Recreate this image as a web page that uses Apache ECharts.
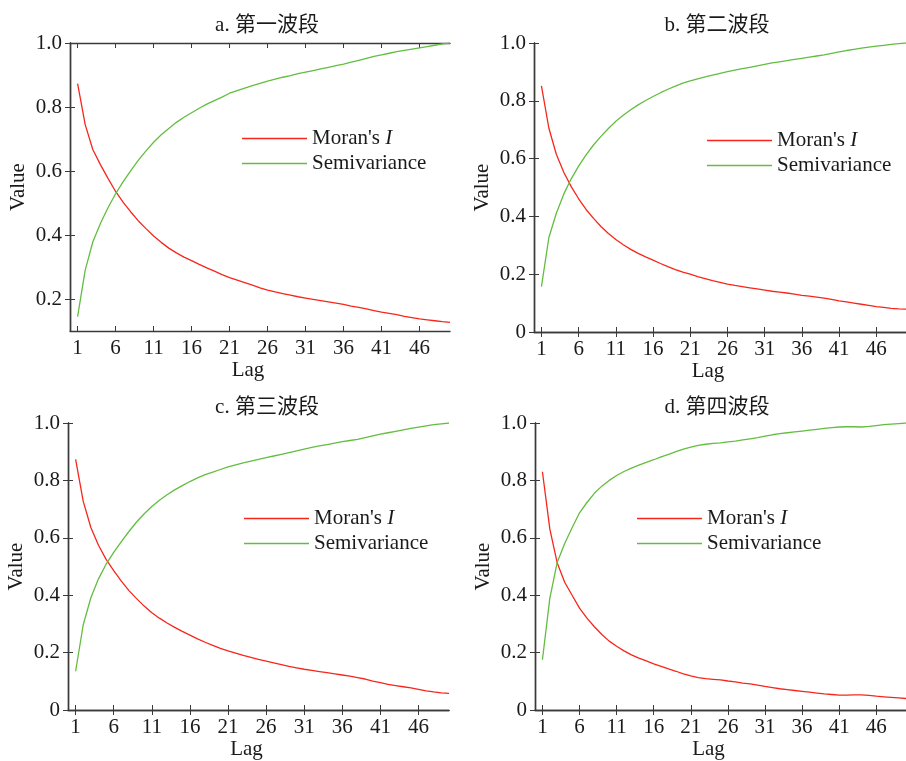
<!DOCTYPE html>
<html>
<head>
<meta charset="utf-8">
<script src="https://cdn.jsdelivr.net/npm/echarts@6/dist/echarts.min.js"></script>
<style>
html,body{margin:0;padding:0;background:#fff;}
#chart{width:906px;height:761px;}
</style>
</head>
<body>
<div id="chart"></div>
<script>
// ---- data ----
const lags = [1,2,3,4,5,6,7,8,9,10,11,12,13,14,15,16,17,18,19,20,21,22,23,24,25,26,27,28,29,30,31,32,33,34,35,36,37,38,39,40,41,42,43,44,45,46,47,48,49,50];
const xTickLabels = [1,6,11,16,21,26,31,36,41,46];
const yTicksA = [0.2,0.4,0.6,0.8,1.0];
const yTicksBCD = [0,0.2,0.4,0.6,0.8,1.0];
const panelTitles = ['a. 第一波段','b. 第二波段','c. 第三波段','d. 第四波段'];
const seriesNames = ["Moran's I", 'Semivariance'];

const moranA = [0.873,0.745,0.667,0.620,0.577,0.536,0.502,0.472,0.444,0.420,0.397,0.377,0.359,0.344,0.331,0.320,0.308,0.297,0.287,0.276,0.267,0.259,0.251,0.243,0.235,0.228,0.222,0.217,0.212,0.207,0.203,0.199,0.195,0.191,0.187,0.183,0.178,0.174,0.169,0.164,0.159,0.155,0.151,0.146,0.142,0.138,0.135,0.132,0.129,0.127];
const semiA = [0.145,0.290,0.378,0.436,0.485,0.529,0.567,0.601,0.634,0.663,0.690,0.713,0.733,0.752,0.768,0.782,0.796,0.809,0.820,0.831,0.843,0.851,0.859,0.867,0.874,0.881,0.887,0.893,0.898,0.904,0.909,0.914,0.919,0.924,0.929,0.934,0.940,0.946,0.952,0.958,0.963,0.968,0.973,0.977,0.981,0.985,0.989,0.993,0.997,1.000];

const moranB = [0.852,0.705,0.615,0.553,0.503,0.461,0.424,0.393,0.365,0.341,0.320,0.302,0.286,0.272,0.260,0.249,0.237,0.226,0.216,0.207,0.200,0.192,0.185,0.178,0.172,0.166,0.161,0.157,0.153,0.149,0.145,0.141,0.138,0.135,0.131,0.127,0.124,0.121,0.117,0.113,0.108,0.104,0.100,0.096,0.092,0.088,0.085,0.082,0.080,0.079];
const semiB = [0.157,0.327,0.411,0.477,0.530,0.574,0.613,0.647,0.677,0.704,0.729,0.750,0.769,0.786,0.801,0.815,0.828,0.840,0.851,0.861,0.869,0.876,0.883,0.889,0.895,0.901,0.906,0.911,0.916,0.921,0.926,0.931,0.935,0.939,0.943,0.947,0.951,0.955,0.959,0.964,0.969,0.974,0.978,0.982,0.986,0.989,0.992,0.995,0.998,1.000];

const moranC = [0.873,0.727,0.636,0.574,0.525,0.486,0.449,0.416,0.388,0.362,0.339,0.320,0.303,0.288,0.274,0.261,0.248,0.236,0.225,0.215,0.206,0.198,0.190,0.183,0.176,0.170,0.164,0.158,0.152,0.147,0.142,0.138,0.134,0.130,0.126,0.122,0.118,0.113,0.108,0.101,0.095,0.089,0.085,0.081,0.077,0.072,0.067,0.063,0.060,0.058];
const semiC = [0.135,0.297,0.391,0.457,0.508,0.549,0.587,0.622,0.655,0.684,0.709,0.731,0.750,0.767,0.782,0.796,0.809,0.820,0.829,0.838,0.847,0.854,0.861,0.867,0.873,0.879,0.885,0.891,0.897,0.903,0.909,0.915,0.920,0.925,0.930,0.935,0.939,0.943,0.949,0.955,0.961,0.966,0.971,0.976,0.981,0.986,0.990,0.994,0.997,1.000];

const moranD = [0.830,0.630,0.512,0.445,0.400,0.355,0.320,0.290,0.263,0.240,0.222,0.206,0.192,0.181,0.171,0.161,0.152,0.143,0.135,0.126,0.119,0.113,0.109,0.107,0.105,0.101,0.098,0.094,0.091,0.087,0.082,0.078,0.074,0.071,0.068,0.065,0.062,0.059,0.056,0.054,0.052,0.052,0.053,0.053,0.051,0.048,0.046,0.044,0.042,0.040];
const semiD = [0.175,0.390,0.515,0.580,0.635,0.687,0.723,0.755,0.780,0.800,0.817,0.831,0.843,0.853,0.863,0.872,0.882,0.891,0.900,0.909,0.916,0.922,0.926,0.929,0.931,0.934,0.937,0.941,0.945,0.949,0.954,0.959,0.963,0.966,0.969,0.972,0.975,0.978,0.981,0.984,0.986,0.987,0.987,0.986,0.988,0.991,0.994,0.996,0.998,1.000];

// ---- layout / style ----
const FONT = "'Liberation Serif','Times New Roman','Noto Sans CJK SC',serif";
const FS = 21;
const AX = '#3a3a3a';
const TXT = '#1a1a1a';
const RED = '#f7261b';
const GREEN = '#63bd40';
const panels = [
  {grid:{left:70,top:43,width:380,height:288}, ymin:0.1, yticks:yTicksA, moran:moranA, semi:semiA, title:{x:262,y:10}, legend:{left:242,top:128}},
  {grid:{left:534,top:43,width:381,height:289}, ymin:0, yticks:yTicksBCD, moran:moranB, semi:semiB, title:{x:712,y:10}, legend:{left:707,top:130}},
  {grid:{left:68,top:423,width:381,height:289}, ymin:0, yticks:yTicksBCD, moran:moranC, semi:semiC, title:{x:262,y:392}, legend:{left:244,top:508}},
  {grid:{left:535,top:423,width:381,height:289}, ymin:0, yticks:yTicksBCD, moran:moranD, semi:semiD, title:{x:712,y:392}, legend:{left:637,top:508}}
];

const option = {backgroundColor:'#fff', animation:false, title:[], grid:[], xAxis:[], yAxis:[], legend:[], series:[]};
const fmtY = v => (v === 0 ? '0' : v.toFixed(1));

panels.forEach((p, i) => {
  option.title.push({text: panelTitles[i], left: p.title.x, top: p.title.y, textAlign: 'center',
    textStyle:{fontFamily:FONT, fontSize:FS, fontWeight:'normal', color:TXT}});
  option.grid.push(p.grid);
  const axLine = {show:true, lineStyle:{color:AX, width:1.4}};
  option.xAxis.push({type:'value', gridIndex:i, position:'bottom', min:0, max:50,
    name:'Lag', nameLocation:'middle', nameGap:29,
    nameTextStyle:{fontFamily:FONT, fontSize:FS, color:TXT, padding:[0,24,0,0]},
    axisLine:axLine, splitLine:{show:false},
    axisTick:{show:true, inside:true, length:5, customValues:xTickLabels, lineStyle:{color:AX}},
    axisLabel:{customValues:xTickLabels, margin:7, fontFamily:FONT, fontSize:FS, color:TXT}});
  option.xAxis.push({type:'value', gridIndex:i, position:'top', min:0, max:50,
    axisLine:axLine, splitLine:{show:false},
    axisTick:{show:true, inside:true, length:5, customValues:xTickLabels, lineStyle:{color:AX}},
    axisLabel:{show:false}});
  option.yAxis.push({type:'value', gridIndex:i, position:'left', min:p.ymin, max:1,
    name:'Value', nameLocation:'middle', nameGap:41,
    nameTextStyle:{fontFamily:FONT, fontSize:FS, color:TXT},
    axisLine:axLine, splitLine:{show:false},
    axisTick:{show:true, inside:true, length:5, customValues:p.yticks, lineStyle:{color:AX}},
    axisLabel:{customValues:p.yticks, formatter:fmtY, margin:8, fontFamily:FONT, fontSize:FS, color:TXT}});
  option.yAxis.push({type:'value', gridIndex:i, position:'right', min:p.ymin, max:1,
    axisLine:axLine, splitLine:{show:false},
    axisTick:{show:true, inside:true, length:5, customValues:p.yticks, lineStyle:{color:AX}},
    axisLabel:{show:false}});
  option.series.push({name:seriesNames[0], type:'line', xAxisIndex:2*i, yAxisIndex:2*i,
    data: lags.map((l, k) => [l, p.moran[k]]), symbol:'none', smooth:false,
    lineStyle:{color:RED, width:1.3}, itemStyle:{color:RED}, z:3});
  option.series.push({name:seriesNames[1], type:'line', xAxisIndex:2*i, yAxisIndex:2*i,
    data: lags.map((l, k) => [l, p.semi[k]]), symbol:'none', smooth:false,
    lineStyle:{color:GREEN, width:1.3}, itemStyle:{color:GREEN}, z:3});
  option.legend.push({data:seriesNames, orient:'vertical', left:p.legend.left, top:p.legend.top,
    icon:'rect', itemWidth:65, itemHeight:1.5, itemGap:4, selectedMode:false, padding:0,
    formatter: n => n === "Moran's I" ? "Moran's {i|I}" : n,
    textStyle:{fontFamily:FONT, fontSize:FS, lineHeight:21, color:TXT,
      rich:{i:{fontFamily:FONT, fontSize:FS, lineHeight:21, fontStyle:'italic', color:TXT}}}});
});

const chart = echarts.init(document.getElementById('chart'), null, {renderer:'canvas'});
chart.setOption(option);
</script>
</body>
</html>
